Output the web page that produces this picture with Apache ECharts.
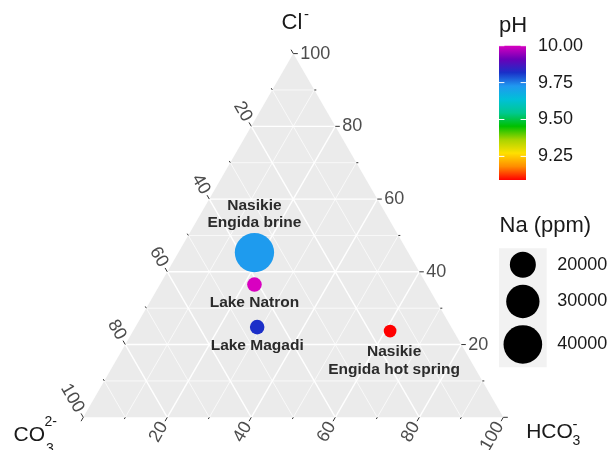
<!DOCTYPE html>
<html>
<head>
<meta charset="utf-8">
<script src="https://cdn.jsdelivr.net/npm/echarts@6/dist/echarts.min.js"></script>
<style>
  html, body { margin: 0; padding: 0; background: #ffffff; }
  #chart { width: 611px; height: 450px; }
</style>
</head>
<body>
<div id="chart"></div>
<script>
// Water samples: ternary composition (% of CO3 2-, Cl-, HCO3-), pH and Na (ppm)
const sampleNames = ['Nasikie\nEngida brine', 'Lake Natron', 'Lake Magadi', 'Nasikie\nEngida hot spring'];
const co3Pct  = [36.6, 41.0, 46.2, 15.1];
const clPct   = [45.3, 36.5, 24.8, 23.7];
const hco3Pct = [18.1, 22.5, 29.0, 61.2];
const phValues = [9.72, 10.00, 9.82, 9.09];
const naValues = [41400, 13000, 12990, 12850];

// Ternary axis ticks
const majorTicks = [0, 20, 40, 60, 80, 100];
const minorTicks = [10, 30, 50, 70, 90];
const labelledTicks = [20, 40, 60, 80, 100];

// Legend breaks
const phBreaks = [9.25, 9.50, 9.75, 10.00];
const naBreaks = [20000, 30000, 40000];

// pH colour ramp, low -> high
const phColors = ['#ff0000', '#ff8c00', '#ffe000', '#a8d400', '#00c000', '#00c890',
                  '#00c0d8', '#2098f0', '#1a30c8', '#6a00b8', '#d800c0'];

const FONT = '"Liberation Sans", Arial, Helvetica, sans-serif';
const SQ3 = Math.sqrt(3) / 2;

// (left, top, right) composition -> cartesian units of an equilateral triangle of side 100
function toXY(l, t, r) {
  const s = l + t + r;
  return [100 * (r + t / 2) / s, 100 * SQ3 * t / s];
}

const phMin = Math.min(...phValues), phMax = Math.max(...phValues);
const naMin = Math.min(...naValues), naMax = Math.max(...naValues);
const sizeRange = [12.7, 39.3];
// area scale: diameter grows with sqrt of the rescaled value
function sizeScale(v) {
  const f = Math.max(0, (v - naMin) / (naMax - naMin));
  return sizeRange[0] + (sizeRange[1] - sizeRange[0]) * Math.sqrt(f);
}

const labelPlacement = [
  { position: 'top', distance: 1.5, offset: [0, 0] },
  { position: 'bottom', distance: 2, offset: [0, 0] },
  { position: 'bottom', distance: 2.5, offset: [0, 0] },
  { position: 'bottom', distance: 6, offset: [4, 0] }
];

function renderPanel(params, api) {
  const P = (l, t, r) => api.coord(toXY(l, t, r));
  const children = [];
  children.push({
    type: 'polygon',
    shape: { points: [P(0, 100, 0), P(100, 0, 0), P(0, 0, 100)] },
    style: { fill: '#ebebeb' }
  });
  const seg = (a, b, w) => ({
    type: 'line',
    shape: { x1: a[0], y1: a[1], x2: b[0], y2: b[1] },
    style: { stroke: '#ffffff', lineWidth: w }
  });
  const gridAt = (v, w) => {
    children.push(seg(P(100 - v, v, 0), P(0, v, 100 - v), w));   // constant Cl
    children.push(seg(P(v, 100 - v, 0), P(v, 0, 100 - v), w));   // constant CO3
    children.push(seg(P(100 - v, 0, v), P(0, 100 - v, v), w));   // constant HCO3
  };
  minorTicks.forEach(v => gridAt(v, 0.7));
  majorTicks.filter(v => v > 0 && v < 100).forEach(v => gridAt(v, 1.4));

  const axes = [
    { at: v => P(v, 100 - v, 0), dir: [-0.5, -SQ3], rot: -Math.PI / 3, align: 'right' },  // CO3, left edge
    { at: v => P(0, v, 100 - v), dir: [1, 0], rot: 0, align: 'left' },                    // Cl, right edge
    { at: v => P(100 - v, 0, v), dir: [-0.5, SQ3], rot: Math.PI / 3, align: 'right' }      // HCO3, bottom edge
  ];
  axes.forEach(ax => {
    const tick = (v, len) => {
      const p = ax.at(v);
      children.push({
        type: 'line',
        shape: { x1: p[0], y1: p[1], x2: p[0] + ax.dir[0] * len, y2: p[1] + ax.dir[1] * len },
        style: { stroke: '#333333', lineWidth: 1 }
      });
    };
    majorTicks.forEach(v => tick(v, 4.5));
    minorTicks.forEach(v => tick(v, 2));
    labelledTicks.forEach(v => {
      const p = ax.at(v);
      children.push({
        type: 'text',
        x: p[0] + ax.dir[0] * 7,
        y: p[1] + ax.dir[1] * 7,
        rotation: ax.rot,
        style: {
          text: String(v), font: '18px ' + FONT, fill: '#4d4d4d',
          align: ax.align, verticalAlign: 'middle',
          textAlign: ax.align, textVerticalAlign: 'middle'
        }
      });
    });
  });
  return { type: 'group', children: children };
}

function renderColorbar(params, api) {
  const p0 = api.coord([0, phMax]);
  const p1 = api.coord([1, phMin]);
  const stops = phColors.map((c, i) => ({ offset: i / (phColors.length - 1), color: c }));
  const children = [{
    type: 'rect',
    shape: { x: p0[0], y: p0[1], width: p1[0] - p0[0], height: p1[1] - p0[1] },
    style: { fill: new echarts.graphic.LinearGradient(0, 1, 0, 0, stops) }
  }];
  const tw = (p1[0] - p0[0]) / 5;
  phBreaks.forEach(v => {
    const y = api.coord([0, v])[1];
    children.push({ type: 'line', shape: { x1: p0[0], y1: y, x2: p0[0] + tw, y2: y },
                    style: { stroke: '#ffffff', lineWidth: 1 } });
    children.push({ type: 'line', shape: { x1: p1[0] - tw, y1: y, x2: p1[0], y2: y },
                    style: { stroke: '#ffffff', lineWidth: 1 } });
  });
  return { type: 'group', children: children };
}

// Na (ppm) size legend, keys stacked with heights that follow the glyph size
function sizeLegend() {
  const left = 499, top = 248.3, keyW = 47.7, pad = 7;
  const els = [];
  const heights = naBreaks.map(v => sizeScale(v) + pad);
  const total = heights.reduce((a, b) => a + b, 0);
  els.push({ type: 'rect', shape: { x: left, y: top, width: keyW, height: total },
             style: { fill: '#f2f2f2' }, z: 1 });
  let y = top;
  naBreaks.forEach((v, i) => {
    const cy = y + heights[i] / 2;
    els.push({ type: 'circle', shape: { cx: left + keyW / 2, cy: cy, r: sizeScale(v) / 2 },
               style: { fill: '#000000' }, z: 2 });
    els.push({ type: 'text', x: left + keyW + 10.5, y: cy,
               style: { text: String(v), font: '18px ' + FONT, fill: '#1a1a1a',
                        align: 'left', verticalAlign: 'middle', textAlign: 'left', textVerticalAlign: 'middle' }, z: 2 });
    y += heights[i];
  });
  return els;
}

function txt(text, x, y, size, align, color) {
  return { type: 'text', x: x, y: y,
           style: { text: text, font: size + 'px ' + FONT, fill: color || '#1a1a1a',
                    align: align || 'left', verticalAlign: 'middle',
                    textAlign: align || 'left', textVerticalAlign: 'middle' } };
}

const points = sampleNames.map((name, i) => {
  const xy = toXY(co3Pct[i], clPct[i], hco3Pct[i]);
  return {
    name: name,
    value: [xy[0], xy[1], phValues[i], naValues[i]],
    label: labelPlacement[i]
  };
});

const chart = echarts.init(document.getElementById('chart'), null, { renderer: 'canvas' });
chart.setOption({
  animation: false,
  backgroundColor: '#ffffff',
  grid: [
    { left: 83.3, top: 53.6, width: 420, height: 363.7 },
    { left: 499, top: 45.7, width: 27, height: 134.3 }
  ],
  xAxis: [
    { type: 'value', min: 0, max: 100, show: false, gridIndex: 0 },
    { type: 'value', min: 0, max: 1, show: false, gridIndex: 1 }
  ],
  yAxis: [
    { type: 'value', min: 0, max: 100 * SQ3, show: false, gridIndex: 0 },
    {
      type: 'value', min: phMin, max: phMax, gridIndex: 1, position: 'right',
      axisLine: { show: false }, axisTick: { show: false }, splitLine: { show: false },
      axisLabel: {
        customValues: phBreaks, margin: 12, fontSize: 18, fontFamily: FONT, color: '#1a1a1a',
        formatter: v => v.toFixed(2)
      }
    }
  ],
  visualMap: {
    show: false, seriesIndex: 1, dimension: 2, min: phMin, max: phMax,
    inRange: { color: phColors }
  },
  series: [
    {
      type: 'custom', xAxisIndex: 0, yAxisIndex: 0, clip: false, silent: true,
      data: [[50, 40]], renderItem: renderPanel, z: 1
    },
    {
      type: 'scatter', xAxisIndex: 0, yAxisIndex: 0, z: 3,
      data: points,
      symbolSize: v => sizeScale(v[3]),
      itemStyle: { opacity: 1 },
      emphasis: { disabled: true },
      label: {
        show: true, formatter: '{b}', fontSize: 15.5, fontWeight: 'bold', fontFamily: FONT,
        color: '#2b2b2b', lineHeight: 17.4, align: 'center'
      }
    },
    {
      type: 'custom', xAxisIndex: 1, yAxisIndex: 1, silent: true,
      data: [[0.5, (phMin + phMax) / 2]], renderItem: renderColorbar
    }
  ],
  graphic: [
    txt('Cl', 281.5, 23, 22),
    txt('-', 304, 14.5, 15),
    txt('CO', 13.5, 435, 21),
    txt('2-', 44.5, 422, 14),
    txt('3', 46, 449, 14),
    txt('HCO', 526.2, 432, 21),
    txt('-', 572.5, 424.5, 15),
    txt('3', 572.5, 441.5, 14),
    txt('pH', 499, 26, 22),
    txt('Na (ppm)', 499.5, 226, 22)
  ].concat(sizeLegend())
});
</script>
</body>
</html>
